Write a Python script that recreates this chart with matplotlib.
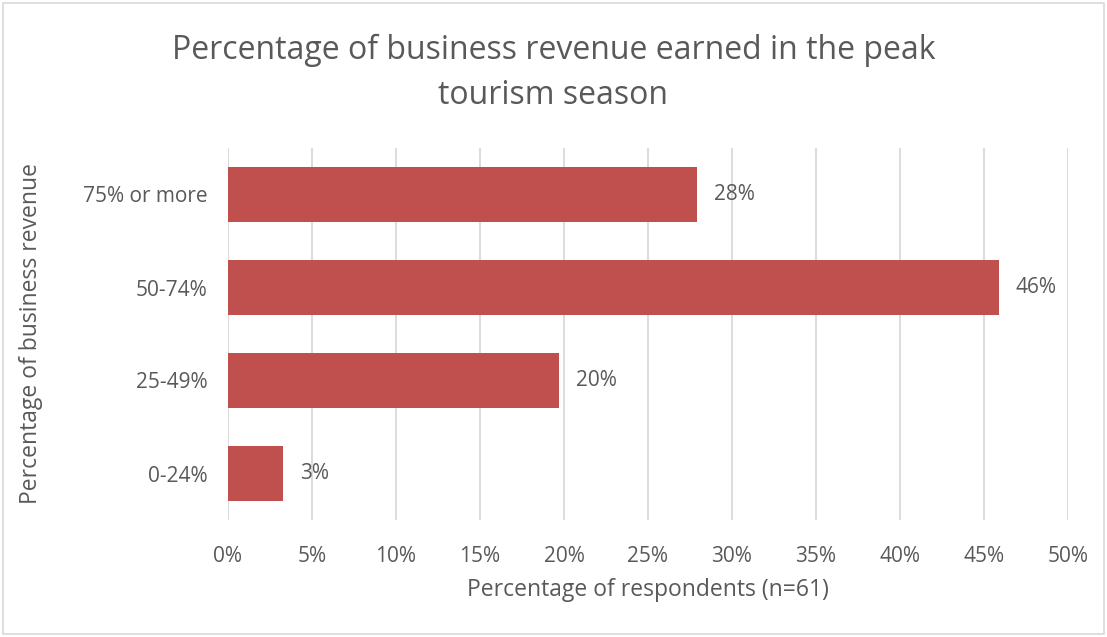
import matplotlib.pyplot as plt
from matplotlib.patches import Rectangle

# share of respondents per revenue band (n=61)
categories = ['0-24%', '25-49%', '50-74%', '75% or more']
shares = [3.3, 19.7, 45.9, 27.9]
xticks = [0, 5, 10, 15, 20, 25, 30, 35, 40, 45, 50]

BAR = '#C0504D'
TXT = '#595959'
GRID = '#D9D9D9'

plt.rcParams['font.family'] = ['Open Sans', 'DejaVu Sans']

fig = plt.figure(figsize=(11.07, 6.37), dpi=100)
ax = fig.add_axes([228 / 1107, 1 - 520 / 637, 840 / 1107, 372 / 637])

# light frame round the whole chart
fig.patches.append(Rectangle((3 / 1107, 3 / 637), 1101 / 1107, 631 / 637,
                             transform=fig.transFigure, fill=False,
                             edgecolor=GRID, linewidth=1.2))

pos = range(len(categories))
ax.barh(pos, shares, height=0.6, color=BAR, zorder=3)
for y, v in zip(pos, shares):
    ax.text(v + 1.0, y, '{:.0f}%'.format(v), va='center', ha='left',
            fontsize=15, color=TXT)

ax.set_xlim(0, 50)
ax.set_ylim(-0.5, len(categories) - 0.5)
ax.set_xticks(xticks)
ax.set_xticklabels(['{}%'.format(t) for t in xticks])
ax.set_yticks(list(pos))
ax.set_yticklabels(categories)
ax.tick_params(axis='x', length=0, pad=19, labelsize=15, labelcolor=TXT)
ax.tick_params(axis='y', length=0, pad=15, labelsize=15, labelcolor=TXT)
ax.grid(axis='x', color=GRID, linewidth=1.3, zorder=0)
for s in ax.spines.values():
    s.set_visible(False)

ax.set_xlabel('Percentage of respondents (n=61)', fontsize=16.5, color=TXT,
              labelpad=8)
fig.text(31 / 1107, 1 - 334 / 637, 'Percentage of business revenue',
         rotation=90, ha='center', va='center', fontsize=16.5, color=TXT)
fig.text(0.5, 1 - 73 / 637,
         'Percentage of business revenue earned in the peak\ntourism season',
         ha='center', va='center', fontsize=23, color=TXT, linespacing=1.5)

fig.savefig('out.png', dpi=100, facecolor='white')
